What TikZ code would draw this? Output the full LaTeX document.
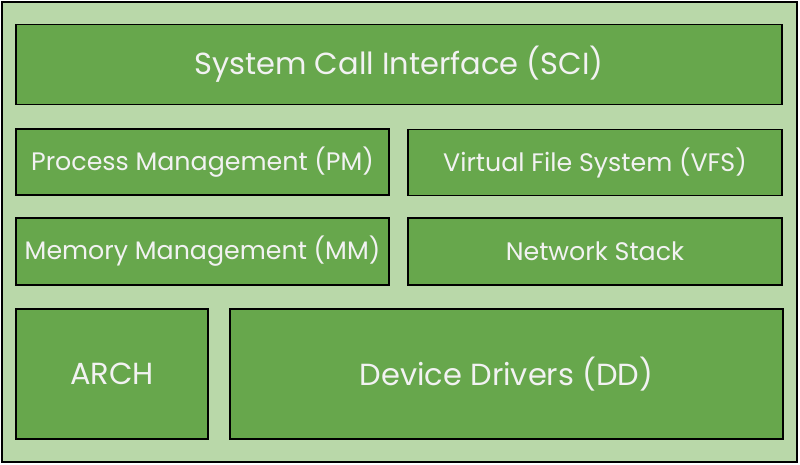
\documentclass[tikz,border=0pt]{standalone}
\usepackage{fontspec}
\setmainfont{Poppins}
\definecolor{outerfill}{HTML}{B9D8A9}
\definecolor{boxfill}{HTML}{67A74C}
\definecolor{txt}{HTML}{F2F2F2}
\tikzset{
  layer/.style={draw=black, line width=1.8pt, fill=boxfill, text=txt, inner sep=0pt},
  big/.style={font=\fontsize{30.5}{34}\selectfont},
  small/.style={font=\fontsize{25.3}{29}\selectfont},
}
\begin{document}
\begin{tikzpicture}[x=1pt,y=-1pt]
\useasboundingbox (0,0) rectangle (800,465);
\filldraw[fill=outerfill, draw=black, line width=2pt] (2,2) rectangle (797,462);
\node[layer, big, minimum width=766pt, minimum height=80pt] (sci) at (399,64.5) {System Call Interface (SCI)};
\node[layer, small, minimum width=373pt, minimum height=66pt] (pm) at (202.5,162) {Process Management (PM)};
\node[layer, small, minimum width=374pt, minimum height=66pt] (vfs) at (595,162.5) {Virtual File System (VFS)};
\node[layer, small, minimum width=373pt, minimum height=67pt] (mm) at (202.5,251.5) {Memory Management (MM)};
\node[layer, small, minimum width=374pt, minimum height=67pt] (net) at (595,251.5) {Network Stack};
\node[layer, big, minimum width=192pt, minimum height=130pt] (arch) at (112,374) {ARCH};
\node[layer, big, minimum width=553pt, minimum height=130pt] (dd) at (506.5,374) {Device Drivers (DD)};
\end{tikzpicture}
\end{document}
